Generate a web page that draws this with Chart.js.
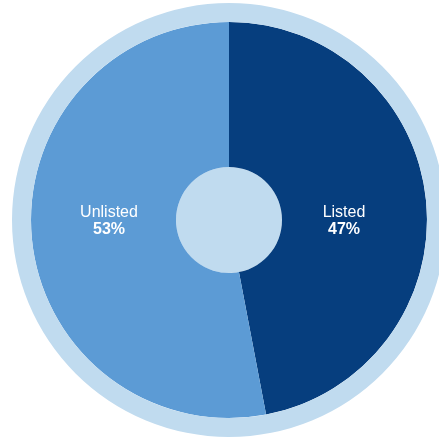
<!DOCTYPE html>
<html>
<head>
<meta charset="utf-8">
<script src="https://cdn.jsdelivr.net/npm/chart.js@4/dist/chart.umd.min.js"></script>
<style>
  html, body { margin: 0; padding: 0; background: #ffffff; overflow: hidden; }
  #wrap { position: absolute; left: 12px; top: 3px; width: 434px; height: 434px; }
</style>
</head>
<body>
<div id="wrap"><canvas id="chart"></canvas></div>
<script>
// Share of holdings by listing status
const categories = ['Listed', 'Unlisted'];
const shares = [47, 53];
const shareLabels = ['47%', '53%'];

const NAVY = '#063e7e';
const MID = '#5c9bd5';
const PALE = '#c0dbef';

// Writes the category name and its share inside each slice of the main ring
const sliceLabels = {
  id: 'sliceLabels',
  afterDatasetsDraw(chart, args, opts) {
    const meta = chart.getDatasetMeta(1);
    const ctx = chart.ctx;
    ctx.save();
    ctx.textAlign = 'center';
    ctx.textBaseline = 'alphabetic';
    ctx.fillStyle = '#ffffff';
    meta.data.forEach((arc, i) => {
      const p = arc.getProps(['x', 'y', 'startAngle', 'endAngle'], true);
      const mid = (p.startAngle + p.endAngle) / 2;
      const side = Math.cos(mid) >= 0 ? 1 : -1;
      const x = p.x + side * (side > 0 ? opts.rightOffset : opts.leftOffset);
      const y = p.y;
      ctx.font = '16px "Liberation Sans", Arial, sans-serif';
      ctx.fillText(categories[i], x, y - 3);
      ctx.font = 'bold 16px "Liberation Sans", Arial, sans-serif';
      ctx.fillText(shareLabels[i], x, y + 14);
    });
    ctx.restore();
  }
};

new Chart(document.getElementById('chart'), {
  type: 'pie',
  data: {
    labels: categories,
    datasets: [
      { data: [100], backgroundColor: [PALE], borderWidth: 0, weight: 19 },
      { data: shares, backgroundColor: [NAVY, MID], borderWidth: 0, weight: 145 },
      { data: [100], backgroundColor: [PALE], borderWidth: 0, weight: 53 }
    ]
  },
  options: {
    responsive: true,
    maintainAspectRatio: false,
    animation: false,
    events: [],
    layout: { padding: 0 },
    plugins: {
      legend: { display: false },
      tooltip: { enabled: false },
      sliceLabels: { rightOffset: 115, leftOffset: 120 }
    }
  },
  plugins: [sliceLabels]
});
</script>
</body>
</html>
